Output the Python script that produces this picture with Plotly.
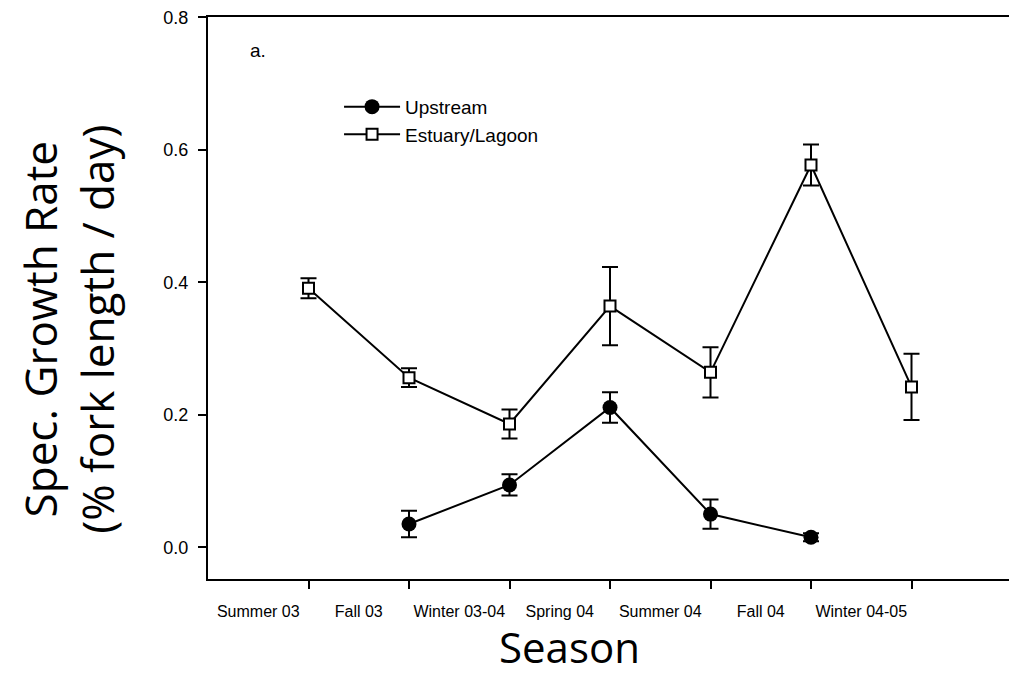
import plotly.graph_objects as go

seasons = ["Summer 03", "Fall 03", "Winter 03-04", "Spring 04", "Summer 04", "Fall 04", "Winter 04-05"]

# Estuary/Lagoon (index positions 0..6)
estuary_x = [0, 1, 2, 3, 4, 5, 6]
estuary_y = [0.391, 0.256, 0.186, 0.364, 0.264, 0.577, 0.242]
estuary_err = [0.015, 0.014, 0.022, 0.059, 0.038, 0.031, 0.050]

# Upstream (index positions 1..5)
upstream_x = [1, 2, 3, 4, 5]
upstream_y = [0.035, 0.094, 0.211, 0.050, 0.015]
upstream_err = [0.020, 0.016, 0.023, 0.022, 0.006]

tick_positions = [0, 1, 2, 3, 4, 5, 6]
label_positions = [-0.5, 0.5, 1.5, 2.5, 3.5, 4.5, 5.5]
y_ticks = [0, 0.2, 0.4, 0.6, 0.8]

fig = go.Figure()
fig.add_trace(go.Scatter(
    x=upstream_x, y=upstream_y, name="Upstream", mode="lines+markers",
    line=dict(color="black", width=2),
    marker=dict(symbol="circle", size=15, color="black"),
    error_y=dict(type="data", array=upstream_err, color="black", thickness=2, width=8),
))
fig.add_trace(go.Scatter(
    x=estuary_x, y=estuary_y, name="Estuary/Lagoon", mode="lines+markers",
    line=dict(color="black", width=2),
    marker=dict(symbol="square", size=11, color="white", line=dict(color="black", width=2)),
    error_y=dict(type="data", array=estuary_err, color="black", thickness=2, width=8),
))

fig.update_layout(
    width=1009, height=684,
    margin=dict(l=200, r=5, t=9, b=113),
    paper_bgcolor="white", plot_bgcolor="white",
    font=dict(family="Liberation Sans, Arial", color="black", size=17),
    showlegend=True,
    legend=dict(
        x=0.163, y=0.874, xanchor="left", yanchor="top",
        font=dict(size=19), bgcolor="rgba(0,0,0,0)", itemwidth=56,
        tracegroupgap=0,
    ),
    xaxis=dict(
        range=[-1, 7], showgrid=False, zeroline=False, automargin=False,
        showline=True, linecolor="black", linewidth=2, mirror=True,
        tickmode="array", tickvals=label_positions, ticktext=seasons,
        ticks="", ticklabelstandoff=17,
        minor=dict(tickmode="array", tickvals=tick_positions, ticks="outside",
                   ticklen=8, tickwidth=2, tickcolor="black", showgrid=False),
        tickfont=dict(size=16),
    ),
    yaxis=dict(
        range=[-0.048, 0.8005], showgrid=False, zeroline=False, automargin=False,
        showline=True, linecolor="black", linewidth=2, mirror=True,
        tickmode="array", tickvals=y_ticks, tickformat=".1f",
        ticks="outside", ticklen=8, tickwidth=2, tickcolor="black",
        ticklabelstandoff=6, tickfont=dict(size=18),
        ticklabeloverflow="allow",
    ),
    annotations=[
        dict(text="a.", xref="paper", yref="paper", x=0.062, y=0.941,
             xanchor="center", yanchor="middle",
             showarrow=False, font=dict(size=19)),
        dict(text="Spec. Growth Rate<br>(% fork length / day)", xref="paper", yref="paper",
             x=-0.173, y=0.445, xanchor="center", yanchor="middle", textangle=-90,
             showarrow=False, font=dict(family="Open Sans", size=44)),
        dict(text="Season", xref="paper", yref="paper", x=0.45, y=-0.119,
             xanchor="center", yanchor="middle", showarrow=False, height=40,
             font=dict(family="Open Sans", size=42)),
    ],
)

fig.write_html("out.html")
